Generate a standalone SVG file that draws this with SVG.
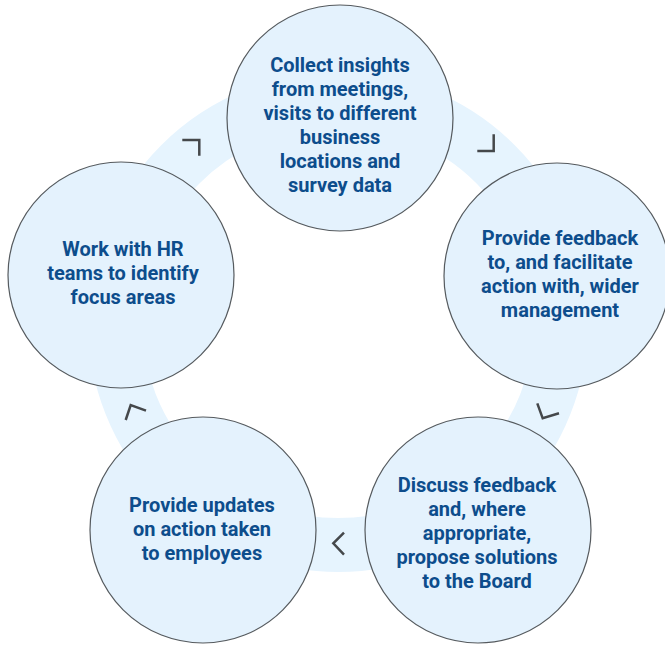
<svg xmlns="http://www.w3.org/2000/svg" width="665" height="647" viewBox="0 0 665 647">
<style>
.ring{fill:none;stroke:#e6f4fe;stroke-width:54}
.node{fill:#e4f2fd;stroke:#555a5e;stroke-width:1.2}
.lbl{font-family:Roboto,"Liberation Sans",sans-serif;font-weight:bold;font-size:20px;fill:#0d4d8c;text-anchor:middle}
.chev{fill:none;stroke:#45484b;stroke-width:2.5;stroke-linecap:butt;stroke-linejoin:miter}
</style>
<rect width="665" height="647" fill="#ffffff"/>
<circle class="ring" cx="338" cy="322" r="223"/>
<g id="connectors">
<polyline class="chev" points="182.3,140 199.3,140 199.3,155.7"/>
<polyline class="chev" points="493.7,134.3 493.7,151 477.3,151"/>
<polyline class="chev" points="537.3,403.3 542.7,418.3 559,413.3"/>
<polyline class="chev" points="344,532.7 333.3,543.3 344,554.7"/>
<polyline class="chev" points="125.7,420 130.7,405 146,410.7"/>
</g>
<g id="node-collect">
<circle class="node" cx="340" cy="118" r="113"/>
<text class="lbl"><tspan x="340" y="72">Collect insights</tspan><tspan x="340" y="96">from meetings,</tspan><tspan x="340" y="120">visits to different</tspan><tspan x="340" y="144">business</tspan><tspan x="340" y="168">locations and</tspan><tspan x="340" y="192">survey data</tspan></text>
</g>
<g id="node-feedback">
<circle class="node" cx="557" cy="276" r="113"/>
<text class="lbl"><tspan x="560" y="245">Provide feedback</tspan><tspan x="560" y="269">to, and facilitate</tspan><tspan x="560" y="293">action with, wider</tspan><tspan x="560" y="317">management</tspan></text>
</g>
<g id="node-discuss">
<circle class="node" cx="478" cy="530" r="113"/>
<text class="lbl"><tspan x="477" y="492">Discuss feedback</tspan><tspan x="477" y="516">and, where</tspan><tspan x="477" y="540">appropriate,</tspan><tspan x="477" y="564">propose solutions</tspan><tspan x="477" y="588">to the Board</tspan></text>
</g>
<g id="node-updates">
<circle class="node" cx="203" cy="530" r="113"/>
<text class="lbl"><tspan x="202" y="512">Provide updates</tspan><tspan x="202" y="536">on action taken</tspan><tspan x="202" y="560">to employees</tspan></text>
</g>
<g id="node-hr">
<circle class="node" cx="121" cy="275" r="113"/>
<text class="lbl"><tspan x="123" y="256">Work with HR</tspan><tspan x="123" y="280">teams to identify</tspan><tspan x="123" y="304">focus areas</tspan></text>
</g>
</svg>
